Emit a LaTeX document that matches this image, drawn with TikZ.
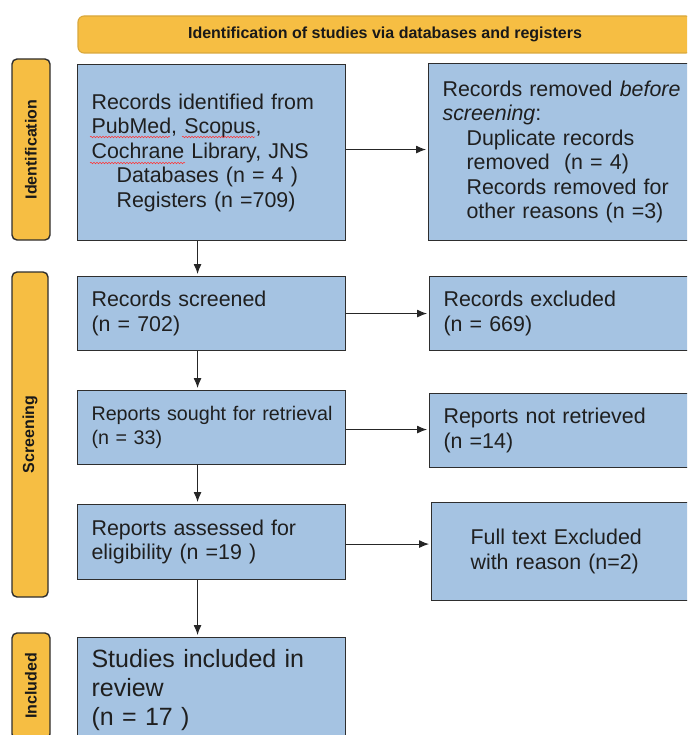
\documentclass[tikz,border=0pt]{standalone}
\usepackage{fontspec}
\setmainfont{Liberation Sans}
\usetikzlibrary{positioning,arrows.meta,decorations.pathmorphing}
\definecolor{prismablue}{HTML}{A5C3E2}
\definecolor{prismaorange}{HTML}{F6BE43}
\definecolor{bannerline}{HTML}{D9A83C}
\definecolor{boxline}{HTML}{2E2E2E}
\tikzset{
    box/.style={draw=boxline, fill=prismablue, line width=1.1pt, anchor=north west,
        align=left, inner xsep=14pt, text=black!88,
        font=\fontsize{21.4}{24.5}\selectfont},
    phase/.style={draw=boxline, fill=prismaorange, line width=1.4pt, rounded corners=5pt,
        text=black!90, font=\fontsize{16}{16}\selectfont\bfseries},
    banner/.style={draw=bannerline, fill=prismaorange, line width=1.1pt, rounded corners=6pt,
        text=black!90, font=\fontsize{16}{16}\selectfont\bfseries},
    arr/.style={-{Latex[length=10pt,width=8pt]}, line width=1pt, draw=black!85, shorten >=2pt},
    spell/.style={draw=red!80, line width=0.5pt, decorate,
        decoration={snake, amplitude=0.8pt, segment length=3pt}}
}
\begin{document}
\begin{tikzpicture}[x=1pt, y=-1pt]
    \useasboundingbox (0,0) rectangle (687,735);
    \clip (0,0) rectangle (687,735);

    % Banner and phases
    \node[banner, minimum width=614pt, minimum height=37pt] (head) at (385,34.5)
        {Identification of studies via databases and registers};
    \node[phase, minimum width=38pt, minimum height=181pt] (phid) at (31,149.5)
        {\rotatebox{90}{Identification}};
    \node[phase, minimum width=36pt, minimum height=325pt] (phscreen) at (30,434.5)
        {\rotatebox{90}{Screening}};
    \node[phase, minimum width=38pt, minimum height=106pt] (phincl) at (31,686)
        {\rotatebox{90}{Included}};

    % Left column
    \node[box, text width=240pt, minimum height=176pt] (ident) at (77,64)
        {Records identified from\\PubMed, Scopus,\\Cochrane Library, JNS\\
         \hspace*{25pt}Databases (n = 4 )\\\hspace*{25pt}Registers (n =709)};
    \node[box, text width=240pt, minimum height=74pt] (screen) at (77,276)
        {Records screened\\(n = 702)};
    \node[box, text width=240pt, minimum height=74pt,
        font=\fontsize{19.7}{24}\selectfont] (sought) at (77,390)
        {\mbox{Reports sought for retrieval}\\(n = 33)};
    \node[box, text width=240pt, minimum height=75pt] (assess) at (77,504)
        {Reports assessed for\\eligibility (n =19 )};
    \node[box, text width=240pt, minimum height=104pt,
        font=\fontsize{25}{29}\selectfont] (incl) at (77,637)
        {Studies included in\\review\\(n = 17 )};

    % Right column
    \node[box, text width=252pt, minimum height=177pt] (removed) at (428,63)
        {Records removed \emph{before}\\\emph{screening}:\\
         \hspace*{24pt}Duplicate records\\\hspace*{24pt}removed\ \ (n = 4)\\
         \hspace*{24pt}Records removed for\\\hspace*{24pt}other reasons (n =3)};
    \node[box, text width=252pt, minimum height=74pt] (excl) at (429,276)
        {Records excluded\\(n = 669)};
    \node[box, text width=252pt, minimum height=74pt] (notret) at (429,393)
        {Reports not retrieved\\(n =14)};
    \node[box, text width=202pt, inner xsep=39pt, minimum height=98pt] (fulltext) at (431,502)
        {Full text Excluded\\with reason (n=2)};

    % Spell-check marks
    \draw[spell] (90,137) -- (170,137);
    \draw[spell] (182,137) -- (255,137);
    \draw[spell] (90,163) -- (185,163);

    % Arrows
    \draw[arr] ([xshift=-14pt]ident.south) -- ([xshift=-14pt]screen.north);
    \draw[arr] ([xshift=-14pt]screen.south) -- ([xshift=-14pt]sought.north);
    \draw[arr] ([xshift=-14pt]sought.south) -- ([xshift=-14pt]assess.north);
    \draw[arr] ([xshift=-14pt]assess.south) -- ([xshift=-14pt]incl.north);
    \draw[arr] ([yshift=3pt]ident.east) -- ([yshift=3pt]ident.east -| removed.west);
    \draw[arr] (screen.east) -- (screen.east -| excl.west);
    \draw[arr] ([yshift=-2pt]sought.east) -- ([yshift=-2pt]sought.east -| notret.west);
    \draw[arr] ([yshift=-2pt]assess.east) -- ([yshift=-2pt]assess.east -| fulltext.west);
\end{tikzpicture}
\end{document}
